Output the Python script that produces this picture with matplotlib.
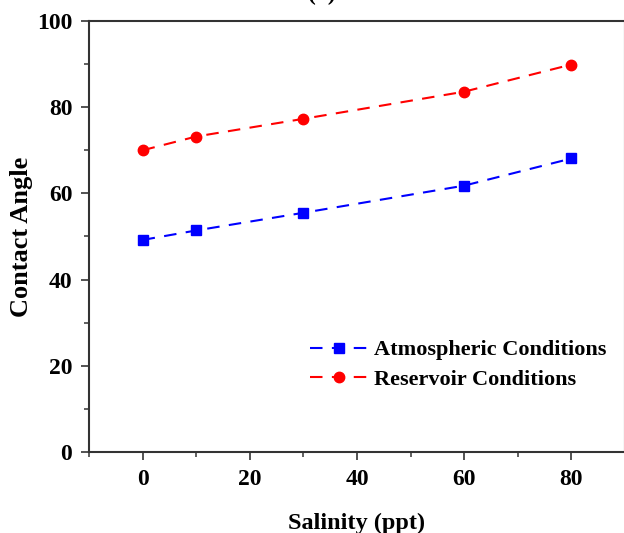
"""Contact angle vs salinity at two conditions."""
import matplotlib.pyplot as plt
from matplotlib.ticker import MultipleLocator

salinity = [0, 10, 30, 60, 80]
atmospheric = [49.2, 51.4, 55.5, 61.8, 68.1]
reservoir = [70.0, 73.2, 77.3, 83.6, 89.9]

plt.rcParams["font.family"] = ["Liberation Serif", "DejaVu Serif"]
plt.rcParams["font.weight"] = "bold"

fig = plt.figure(figsize=(6.24, 5.33), dpi=100)
ax = fig.add_axes([0.1426, 0.152, 0.859, 0.8086])

ax.plot(salinity, atmospheric, ls="--", dashes=(6, 4.5), color="#0000ff", lw=1.5,
        marker="s", ms=7, label="Atmospheric Conditions")
ax.plot(salinity, reservoir, ls="--", dashes=(6, 4.5), color="#ff0000", lw=1.5,
        marker="o", ms=7.5, label="Reservoir Conditions")

ax.set_xlim(-10, 90)
ax.set_ylim(0, 100)
ax.xaxis.set_major_locator(MultipleLocator(20))
ax.xaxis.set_minor_locator(MultipleLocator(10))
ax.yaxis.set_major_locator(MultipleLocator(20))
ax.yaxis.set_minor_locator(MultipleLocator(10))
ax.tick_params(which="major", direction="out", length=6, width=1.3,
               labelsize=17, pad=6, color="#444444")
ax.tick_params(which="minor", direction="out", length=3.5, width=1.2,
               color="#444444")
for sp in ax.spines.values():
    sp.set_linewidth(1.5)
    sp.set_color("#333333")
for lbl in ax.get_xticklabels() + ax.get_yticklabels():
    lbl.set_fontweight("bold")

ax.set_xlabel("Salinity (ppt)", fontsize=17.5, fontweight="bold", labelpad=17)
ax.set_ylabel("Contact Angle", fontsize=19, fontweight="bold", labelpad=3)

ax.legend(loc="lower left", bbox_to_anchor=(0.375, 0.098), frameon=False,
          prop={"size": 16, "weight": "bold"}, handlelength=2.6,
          handletextpad=0.3, labelspacing=0.4)

fig.text(0.515, 1 - 5 / 533, "(a)", ha="center", va="bottom", fontsize=17,
         fontweight="bold")

fig.savefig("out.png", dpi=100)
